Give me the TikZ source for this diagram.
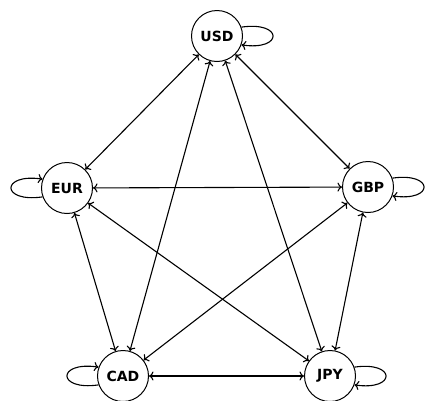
\documentclass[tikz,border=0pt]{standalone}
\usepackage{fontspec}
\setmainfont{DejaVu Sans}
\usetikzlibrary{arrows.meta}
\begin{document}
\begin{tikzpicture}[x=1pt,y=-1pt,
  cur/.style={circle,draw,line width=1pt,minimum size=51pt,inner sep=0pt,font=\fontsize{14}{16}\selectfont\bfseries},
  link/.style={line width=1.1pt,{To[length=4.5pt,width=9pt]}-{To[length=4.5pt,width=9pt]}},
  selfloop/.style={line width=1.1pt,-{To[length=4.5pt,width=9pt]}}]
\useasboundingbox (0,0) rectangle (428,400);
\node[cur] (usd) at (217,36) {USD};
\node[cur] (eur) at (67,188) {EUR};
\node[cur] (gbp) at (368,187) {GBP};
\node[cur] (cad) at (123,376) {CAD};
\node[cur] (jpy) at (330,376) {JPY};
\draw[link] (usd) -- (eur);
\draw[link] (usd) -- (gbp);
\draw[link] (usd) -- (cad);
\draw[link] (usd) -- (jpy);
\draw[link] (eur) -- (gbp);
\draw[link] (eur) -- (cad);
\draw[link] (eur) -- (jpy);
\draw[link] (gbp) -- (cad);
\draw[link] (gbp) -- (jpy);
\draw[link] (cad) -- (jpy);
\draw[selfloop] (usd.20) .. controls +(42,-6) and +(42,6) .. (usd.-20);
\draw[selfloop] (gbp.20) .. controls +(42,-6) and +(42,6) .. (gbp.-20);
\draw[selfloop] (jpy.20) .. controls +(42,-6) and +(42,6) .. (jpy.-20);
\draw[selfloop] (eur.200) .. controls +(-42,6) and +(-42,-6) .. (eur.160);
\draw[selfloop] (cad.200) .. controls +(-42,6) and +(-42,-6) .. (cad.160);
\end{tikzpicture}
\end{document}
